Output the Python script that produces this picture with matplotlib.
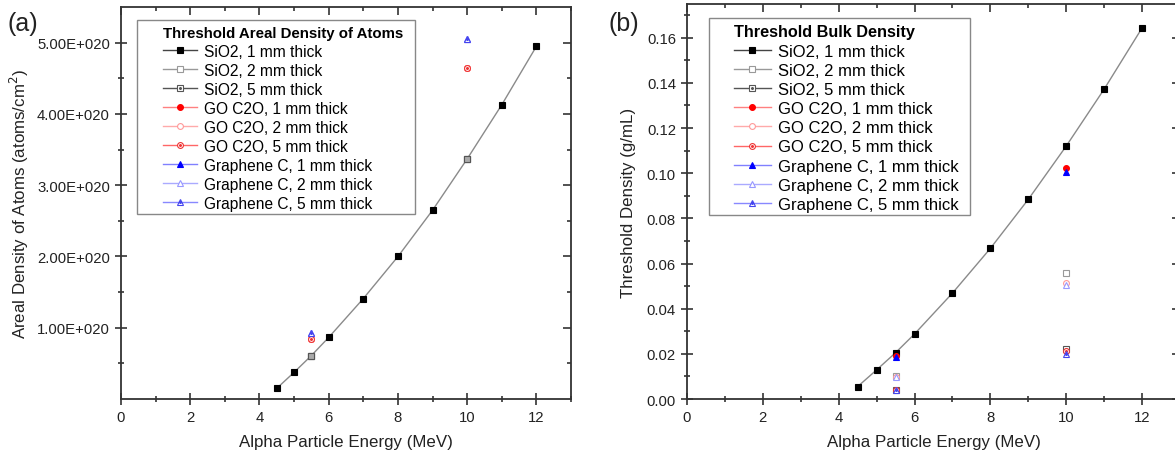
import numpy as np
import matplotlib
matplotlib.use('Agg')
import matplotlib.pyplot as plt
from matplotlib.lines import Line2D
from matplotlib.patches import Rectangle
from matplotlib.transforms import IdentityTransform
from matplotlib.ticker import FuncFormatter, MultipleLocator

plt.rcParams['font.family'] = ['Liberation Sans', 'DejaVu Sans']

# Data
energy_curve = [4.5, 5, 5.5, 6, 7, 8, 9, 10, 11, 12]
energy_pts = [5.5, 10]

# (a) areal density of atoms (atoms/cm^2), same for every thickness
areal_sio2 = [1.5e19, 3.75e19, 6.1e19, 8.65e19, 1.41e20, 2.0e20, 2.65e20, 3.37e20, 4.13e20, 4.95e20]
areal_sio2_pts = [6.1e19, 3.37e20]
areal_go = [8.4e19, 4.64e20]
areal_gr = [9.2e19, 5.05e20]

# (b) threshold bulk density (g/mL)
dens_sio2_1 = [0.0055, 0.0129, 0.0205, 0.0288, 0.0469, 0.0667, 0.0884, 0.112, 0.1372, 0.1643]
dens_sio2_2 = [0.0104, 0.0559]
dens_sio2_5 = [0.0041, 0.0223]
dens_go_1 = [0.0189, 0.1025]
dens_go_2 = [0.0099, 0.0515]
dens_go_5 = [0.0040, 0.0213]
dens_gr_1 = [0.0185, 0.1006]
dens_gr_2 = [0.0096, 0.0506]
dens_gr_5 = [0.0039, 0.0201]

labels = ['SiO2, 1 mm thick', 'SiO2, 2 mm thick', 'SiO2, 5 mm thick',
          'GO C2O, 1 mm thick', 'GO C2O, 2 mm thick', 'GO C2O, 5 mm thick',
          'Graphene C, 1 mm thick', 'Graphene C, 2 mm thick', 'Graphene C, 5 mm thick']

# marker styles per series: (marker, line color, face, edge, dot color)
styles = [
    ('s', '#444444', 'black', 'black', None),
    ('s', '#999999', 'white', '#999999', None),
    ('s', '#555555', 'white', '#555555', '#555555'),
    ('o', '#ff8080', 'red', 'red', None),
    ('o', '#ffaaaa', 'white', '#ff9999', None),
    ('o', '#ff6666', 'white', '#ee3333', '#ee3333'),
    ('^', '#8080ff', 'blue', 'blue', None),
    ('^', '#aaaaff', 'white', '#9999ff', None),
    ('^', '#8888ff', 'white', '#4444ee', '#4444ee'),
]
MS = 4.2
TXT = '#222222'
LAB_FS = 12.2


def draw_series(ax, x, y, st, line=False, z=3):
    m, lc, fc, ec, dot = st
    ax.plot(x, y, linestyle='-' if line else 'none', color='#8a8a8a', lw=1.0,
            marker=m, ms=MS, mfc=fc, mec=ec, mew=0.8, zorder=z)
    if dot:
        ax.plot(x, y, linestyle='none', marker='.', ms=2.3, color=dot, zorder=z + 0.1)


def legend_handles():
    hs = []
    for m, lc, fc, ec, dot in styles:
        h = Line2D([], [], color=lc, lw=1.0, marker=m, ms=MS, mfc=fc, mec=ec, mew=0.8)
        if dot:
            h = (h, Line2D([], [], linestyle='none', marker='.', ms=2.3, color=dot))
        hs.append(h)
    return hs


def style_axes(ax):
    for s in ax.spines.values():
        s.set_linewidth(1.3)
        s.set_color('#333333')
    ax.set_xlim(0, 13)
    ax.xaxis.set_major_locator(MultipleLocator(2))
    ax.xaxis.set_minor_locator(MultipleLocator(1))
    ax.tick_params(which='both', direction='inout', colors='#333333', labelcolor=TXT,
                   labelsize=10.7, width=1.2, top=False, right=False, pad=4)
    ax.tick_params(which='major', length=8)
    ax.tick_params(which='minor', length=5)
    # top and right ticks point inward
    top = ax.secondary_xaxis('top')
    top.set_xticks(ax.get_xticks(minor=False))
    top.set_xticks(ax.get_xticks(minor=True), minor=True)
    top.tick_params(which='both', direction='in', labeltop=False, colors='#333333', width=1.2)
    top.tick_params(which='major', length=6)
    top.tick_params(which='minor', length=3)
    top.spines['top'].set_visible(False)
    right = ax.secondary_yaxis('right')
    right.set_yticks(ax.get_yticks(minor=False))
    right.set_yticks(ax.get_yticks(minor=True), minor=True)
    right.tick_params(which='both', direction='in', labelright=False, colors='#333333', width=1.2)
    right.tick_params(which='major', length=6)
    right.tick_params(which='minor', length=3)
    right.spines['right'].set_visible(False)
    ax.set_xlabel('Alpha Particle Energy (MeV)', fontsize=LAB_FS, color=TXT, labelpad=7)


def add_legend(ax, title, anchor, fs, title_fs, spacing):
    # frame is drawn afterwards, Origin style, with a wider left margin
    leg = ax.legend(legend_handles(), labels, loc='upper left', bbox_to_anchor=anchor,
                    borderaxespad=0, title=title, fontsize=fs,
                    title_fontproperties={'weight': 'bold', 'size': title_fs}, alignment='left',
                    frameon=False, handlelength=2.2, labelspacing=spacing, borderpad=0,
                    handletextpad=0.45)
    leg.set_zorder(10)
    return leg


def add_frame(fig, ax, leg, pad_l=26, pad_r=12, pad_t=6, pad_b=3):
    bb = leg.get_window_extent(fig.canvas.get_renderer())
    rect = Rectangle((bb.x0 - pad_l, bb.y0 - pad_b), bb.width + pad_l + pad_r,
                     bb.height + pad_t + pad_b, transform=IdentityTransform(),
                     facecolor='white', edgecolor='#888888', lw=1.0, zorder=9, clip_on=False)
    ax.add_artist(rect)


fig = plt.figure(figsize=(11.75, 4.6), dpi=100)
ax1 = fig.add_axes([0.103, 0.1304, 0.383, 0.852])
ax2 = fig.add_axes([0.5847, 0.1304, 0.4195, 0.859])

# ---- panel (a)
draw_series(ax1, energy_curve, areal_sio2, styles[0], line=True)
draw_series(ax1, energy_pts, areal_sio2_pts, styles[1], z=4)
draw_series(ax1, energy_pts, areal_sio2_pts, (styles[2][0], None, '#aaaaaa', '#555555', None), z=5)
for i, st in enumerate(styles[3:6]):
    draw_series(ax1, energy_pts, areal_go, st, z=4 + i)
for i, st in enumerate(styles[6:9]):
    draw_series(ax1, energy_pts, areal_gr, st, z=4 + i)
ax1.set_ylim(0, 5.5e20)
ax1.set_yticks([1e20, 2e20, 3e20, 4e20, 5e20])
ax1.set_yticks([0.5e20, 1.5e20, 2.5e20, 3.5e20, 4.5e20], minor=True)
ax1.yaxis.set_major_formatter(FuncFormatter(lambda v, p: '%.2fE+0%d' % (v / 1e20, 20)))
ax1.set_ylabel('Areal Density of Atoms (atoms/cm$^2$)', fontsize=LAB_FS, color=TXT, labelpad=4)
style_axes(ax1)
leg1 = add_legend(ax1, 'Threshold Areal Density of Atoms', (0.0933, 0.953), 11.2, 10.8, 0.26)

# ---- panel (b)
draw_series(ax2, energy_curve, dens_sio2_1, styles[0], line=True)
series_b = [dens_sio2_2, dens_sio2_5, dens_go_1, dens_go_2, dens_go_5, dens_gr_1, dens_gr_2, dens_gr_5]
for i, (vals, st) in enumerate(zip(series_b, styles[1:])):
    draw_series(ax2, energy_pts, vals, st, z=4 + i * 0.2)
ax2.set_ylim(0, 0.175)
ax2.yaxis.set_major_locator(MultipleLocator(0.02))
ax2.yaxis.set_minor_locator(MultipleLocator(0.01))
ax2.yaxis.set_major_formatter(FuncFormatter(lambda v, p: '%.2f' % v))
ax2.set_ylabel('Threshold Density (g/mL)', fontsize=LAB_FS, color=TXT, labelpad=8)
style_axes(ax2)
leg2 = add_legend(ax2, 'Threshold Bulk Density', (0.0953, 0.948), 12.0, 11.7, 0.25)

# panel letters
fig.text(0.006, 0.932, '(a)', fontsize=18, color=TXT)
fig.text(0.518, 0.932, '(b)', fontsize=18, color=TXT)

fig.canvas.draw()
add_frame(fig, ax1, leg1)
add_frame(fig, ax2, leg2, pad_l=25, pad_r=11)

fig.savefig('out.png', dpi=100)
